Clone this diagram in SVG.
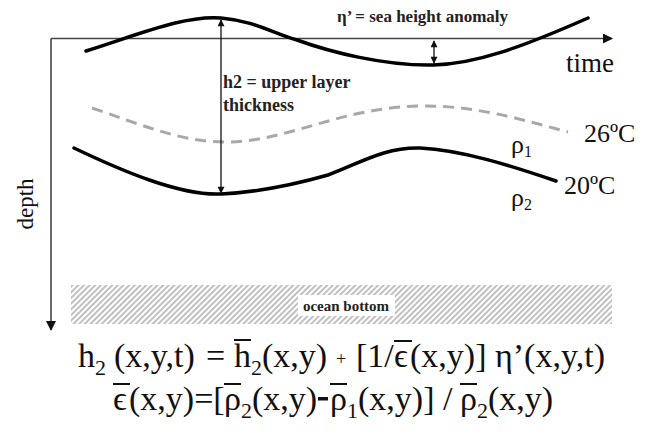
<svg xmlns="http://www.w3.org/2000/svg" width="650" height="442" viewBox="0 0 650 442">
<style>
.serif{font-family:"Liberation Serif","DejaVu Serif",serif;fill:#111}
.bold{font-family:"Liberation Serif","DejaVu Serif",serif;font-weight:bold;fill:#222}
.eq{font-family:"Liberation Serif","DejaVu Serif",serif;font-size:34px;fill:#111}
.sub{font-size:22px}
.curve{fill:none;stroke:#000;stroke-width:3.5;stroke-linecap:round}
.axis{fill:none;stroke:#444;stroke-width:1.6}
.thin{fill:none;stroke:#111;stroke-width:1.3}
.bar{stroke:#111;stroke-width:2}
</style>
<defs>
<marker id="big" viewBox="0 0 10 10" refX="9" refY="5" markerWidth="12" markerHeight="10" markerUnits="userSpaceOnUse" orient="auto"><path d="M0,0 L10,5 L0,10 z" fill="#111"/></marker>
<marker id="small" viewBox="0 0 10 10" refX="9" refY="5" markerWidth="8" markerHeight="7" markerUnits="userSpaceOnUse" orient="auto-start-reverse"><path d="M0,0 L10,5 L0,10 z" fill="#111"/></marker>
<pattern id="hatch" width="4" height="4" patternUnits="userSpaceOnUse" patternTransform="rotate(45)"><rect width="4" height="4" fill="#fff"/><line x1="1" y1="0" x2="1" y2="4" stroke="#b0b0b0" stroke-width="1.6"/></pattern>
</defs>
<rect width="650" height="442" fill="#fff"/>

<g id="bottom">
<rect x="71" y="285" width="541" height="39" fill="url(#hatch)"/>
<rect x="298" y="295" width="97" height="21" fill="#fff"/>
<text class="bold" x="346" y="311" font-size="15" text-anchor="middle">ocean bottom</text>
</g>

<g id="axes">
<path class="axis" d="M51,38.5 H612" marker-end="url(#big)"/>
<path class="axis" d="M51,38.5 V330" marker-end="url(#big)"/>
<text class="serif" x="566" y="72" font-size="27">time</text>
<text class="serif" font-size="23" transform="translate(33,204) rotate(-90)" text-anchor="middle">depth</text>
</g>

<g id="curves">
<path id="sea-surface" class="curve" d="M86,51 C140,34 185,15 221,18 C255,21 272,33 297,40 C330,52 385,66 433,65 C475,64 520,48 588,18"/>
<path id="isotherm-26" d="M92,108 C140,124 180,142 225,142 C290,142 340,106 426,106 C480,106 530,122 568,132" fill="none" stroke="#a8a8a8" stroke-width="3" stroke-dasharray="11,7"/>
<path id="isotherm-20" class="curve" d="M74,148 C120,170 180,196 221,194 C262,192 300,183 328,175 C360,163 385,147 420,148 C462,150 512,166 556,181"/>
</g>

<g id="connectors">
<path class="thin" d="M221,20 V193" marker-start="url(#small)" marker-end="url(#small)"/>
<path class="thin" d="M434,41 V63" marker-start="url(#small)" marker-end="url(#small)"/>
</g>

<g id="labels">
<text class="bold" x="337" y="22" font-size="17">η’ = sea height anomaly</text>
<text class="bold" x="223" y="88" font-size="18">h2 = upper layer</text>
<text class="bold" x="223" y="111" font-size="18">thickness</text>
<text class="serif" x="584" y="142" font-size="26">26ºC</text>
<text class="serif" x="564" y="194" font-size="26">20ºC</text>
<text class="serif" x="511" y="153" font-size="26">ρ<tspan font-size="16" dy="4">1</tspan></text>
<text class="serif" x="511" y="206" font-size="26">ρ<tspan font-size="16" dy="4">2</tspan></text>
</g>

<g id="equation1" class="eq">
<text x="78" y="367">h</text>
<text x="95" y="375" class="sub">2</text>
<text x="114" y="367">(x,y,t)</text>
<text x="206" y="367">=</text>
<text x="234" y="367">h</text>
<line class="bar" x1="234" y1="340" x2="251" y2="340"/>
<text x="251" y="375" class="sub">2</text>
<text x="262" y="367">(x,y)</text>
<text x="336" y="365" font-size="18">+</text>
<text x="356" y="367">[1/</text>
<text x="394" y="367">ϵ</text>
<line class="bar" x1="394" y1="341" x2="412" y2="341"/>
<text x="410" y="367">(x,y)]</text>
<text x="495" y="367">η’(x,y,t)</text>
</g>

<g id="equation2" class="eq">
<text x="113" y="410">ϵ</text>
<line class="bar" x1="113" y1="384" x2="130" y2="384"/>
<text x="129" y="410">(x,y)=[</text>
<text x="224" y="410">ρ</text>
<line class="bar" x1="224" y1="384" x2="241" y2="384"/>
<text x="241" y="418" class="sub">2</text>
<text x="252" y="410">(x,y)</text>
<rect x="318" y="397" width="10" height="3.5" fill="#111"/>
<text x="330" y="410">ρ</text>
<line class="bar" x1="330" y1="384" x2="347" y2="384"/>
<text x="347" y="418" class="sub">1</text>
<text x="358" y="410">(x,y)] / </text>
<text x="460" y="410">ρ</text>
<line class="bar" x1="460" y1="384" x2="477" y2="384"/>
<text x="477" y="418" class="sub">2</text>
<text x="488" y="410">(x,y)</text>
</g>
</svg>
